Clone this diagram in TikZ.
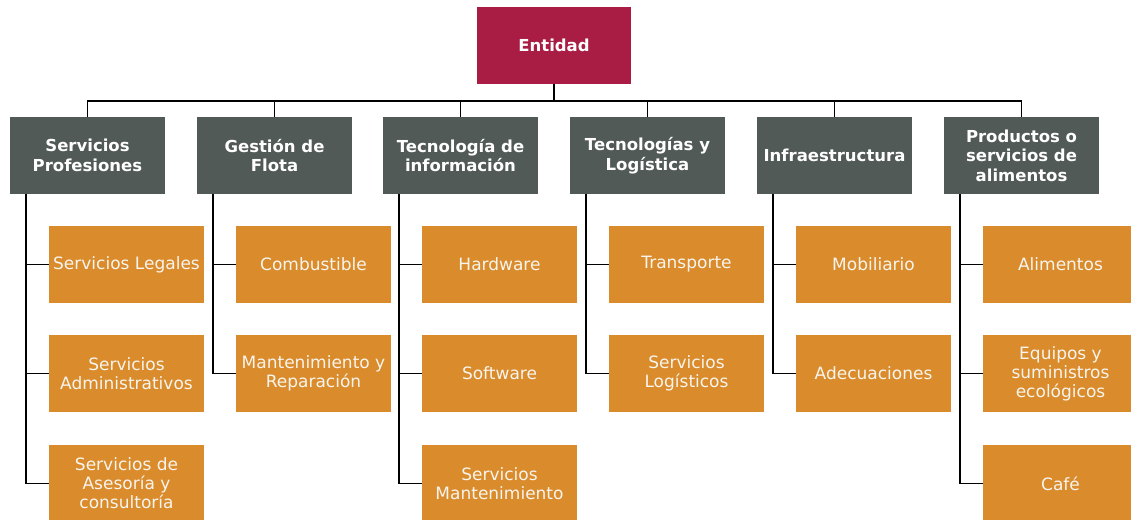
\documentclass[tikz,border=0pt]{standalone}
\usepackage{fontspec}
\setmainfont{DejaVu Sans}
\usetikzlibrary{calc}
\definecolor{rootred}{HTML}{A91D44}
\definecolor{catgray}{HTML}{525A58}
\definecolor{itemorange}{HTML}{DA8C2C}
\definecolor{txtwhite}{HTML}{F8F4EE}
\tikzset{
  rootbox/.style={fill=rootred, minimum width=154pt, minimum height=77pt, inner sep=0pt,
    text=white, align=center, font=\bfseries\fontsize{16.5}{20}\selectfont},
  catbox/.style={fill=catgray, minimum width=155pt, minimum height=77pt, inner sep=0pt,
    text=white, align=center, font=\bfseries\fontsize{16.5}{19.5}\selectfont},
  itembox/.style={fill=itemorange, minimum width=155pt, minimum height=77pt, inner sep=0pt,
    text=txtwhite, align=center, font=\fontsize{17}{19}\selectfont},
  link/.style={draw=black, line width=1.5pt}
}
\begin{document}
\begin{tikzpicture}[x=1pt,y=-1pt]
\useasboundingbox (0,0) rectangle (1131,519);
\clip (0,0) rectangle (1131,519);
% root
\node[rootbox] (root) at (554,45.5) {Entidad};
% categories
\node[catbox] (g1) at (87.5,155.5) {Servicios\\Profesiones};
\node[catbox] (g2) at (274.5,155.5) {Gestión de\\Flota};
\node[catbox] (g3) at (460.5,155.5) {Tecnología de\\información};
\node[catbox] (g4) at (647.5,155.5) {Tecnologías y\\Logística};
\node[catbox] (g5) at (834.5,155.5) {Infraestructura};
\node[catbox] (g6) at (1021.5,155.5) {Productos o\\servicios de\\alimentos};
% items
\node[itembox] (o11) at (126.5,264.5) {Servicios Legales};
\node[itembox] (o12) at (126.5,373.5) {Servicios\\Administrativos};
\node[itembox] (o13) at (126.5,483.5) {Servicios de\\Asesoría y\\consultoría};
\node[itembox] (o21) at (313.5,264.5) {Combustible};
\node[itembox] (o22) at (313.5,373.5) {Mantenimiento y\\Reparación};
\node[itembox] (o31) at (499.5,264.5) {Hardware};
\node[itembox] (o32) at (499.5,373.5) {Software};
\node[itembox] (o33) at (499.5,483.5) {Servicios\\Mantenimiento};
\node[itembox] (o41) at (686.5,264.5) {Transporte};
\node[itembox] (o42) at (686.5,373.5) {Servicios\\Logísticos};
\node[itembox] (o51) at (873.5,264.5) {Mobiliario};
\node[itembox] (o52) at (873.5,373.5) {Adecuaciones};
\node[itembox] (o61) at (1060.5,264.5) {Alimentos};
\node[itembox] (o62) at (1060.5,373.5) {Equipos y\\suministros\\ecológicos};
\node[itembox] (o63) at (1060.5,483.5) {Café};
% bus
\coordinate (bus) at (0,101);
\foreach \g in {g1,g2,g3,g4,g5,g6}{
  \draw[link] (root.south) -- (root.south |- bus) -| (\g.north);
}
% spines
\foreach \g in {1,...,6}{
  \coordinate (s\g) at ($(g\g.south west)+(16,0)$);
}
\draw[link] (s1) |- (o11.west);
\draw[link] (s1) |- (o12.west);
\draw[link] (s1) |- (o13.west);
\draw[link] (s2) |- (o21.west);
\draw[link] (s2) |- (o22.west);
\draw[link] (s3) |- (o31.west);
\draw[link] (s3) |- (o32.west);
\draw[link] (s3) |- (o33.west);
\draw[link] (s4) |- (o41.west);
\draw[link] (s4) |- (o42.west);
\draw[link] (s5) |- (o51.west);
\draw[link] (s5) |- (o52.west);
\draw[link] (s6) |- (o61.west);
\draw[link] (s6) |- (o62.west);
\draw[link] (s6) |- (o63.west);
\end{tikzpicture}
\end{document}
